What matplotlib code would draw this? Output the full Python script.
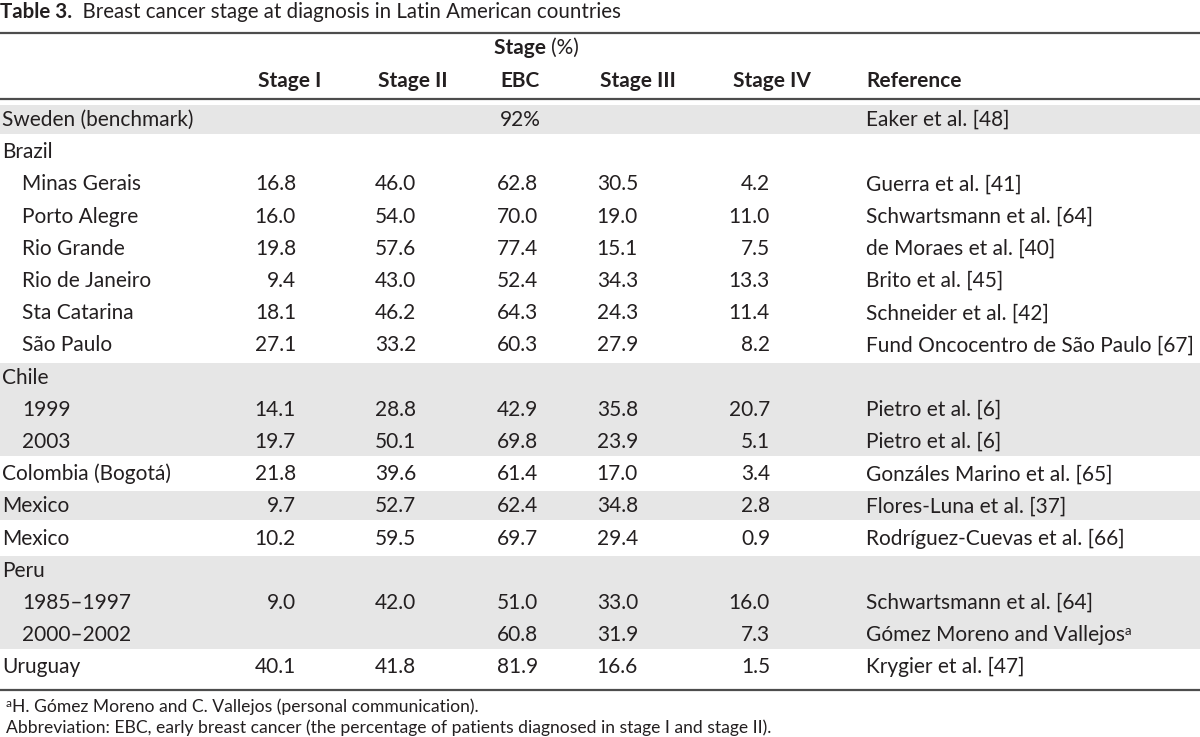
import matplotlib
matplotlib.use("Agg")
import matplotlib.pyplot as plt
from matplotlib.patches import Rectangle

# ---------------- data ----------------
title_bold = "Table 3."
title_rest = "  Breast cancer stage at diagnosis in Latin American countries"
col_headers = ["Stage I", "Stage II", "EBC", "Stage III", "Stage IV", "Reference"]
row_labels = ["Sweden (benchmark)", "Brazil", "Minas Gerais", "Porto Alegre", "Rio Grande",
              "Rio de Janeiro", "Sta Catarina", "São Paulo", "Chile", "1999", "2003",
              "Colombia (Bogotá)", "Mexico", "Mexico", "Peru", "1985–1997", "2000–2002", "Uruguay"]
indent = [0, 0, 1, 1, 1, 1, 1, 1, 0, 1, 1, 0, 0, 0, 0, 1, 1, 0]
stage1 = [None, None, 16.8, 16.0, 19.8, 9.4, 18.1, 27.1, None, 14.1, 19.7, 21.8, 9.7, 10.2, None, 9.0, None, 40.1]
stage2 = [None, None, 46.0, 54.0, 57.6, 43.0, 46.2, 33.2, None, 28.8, 50.1, 39.6, 52.7, 59.5, None, 42.0, None, 41.8]
ebc = [92, None, 62.8, 70.0, 77.4, 52.4, 64.3, 60.3, None, 42.9, 69.8, 61.4, 62.4, 69.7, None, 51.0, 60.8, 81.9]
stage3 = [None, None, 30.5, 19.0, 15.1, 34.3, 24.3, 27.9, None, 35.8, 23.9, 17.0, 34.8, 29.4, None, 33.0, 31.9, 16.6]
stage4 = [None, None, 4.2, 11.0, 7.5, 13.3, 11.4, 8.2, None, 20.7, 5.1, 3.4, 2.8, 0.9, None, 16.0, 7.3, 1.5]
references = ["Eaker et al. [48]", "", "Guerra et al. [41]", "Schwartsmann et al. [64]",
              "de Moraes et al. [40]", "Brito et al. [45]", "Schneider et al. [42]",
              "Fund Oncocentro de São Paulo [67]", "", "Pietro et al. [6]", "Pietro et al. [6]",
              "Gonzáles Marino et al. [65]", "Flores-Luna et al. [37]",
              "Rodríguez-Cuevas et al. [66]", "", "Schwartsmann et al. [64]",
              "Gómez Moreno and Vallejos", "Krygier et al. [47]"]
ref_superscript = {16: "a"}
shaded_groups = [(0, 0), (8, 10), (12, 12), (14, 16)]
footnote_a = "H. Gómez Moreno and C. Vallejos (personal communication)."
footnote_abbr = "Abbreviation: EBC, early breast cancer (the percentage of patients diagnosed in stage I and stage II)."

# ---------------- style ----------------
FONT = "Lato"
TXT = "#231f20"
RULE = "#4d4d4d"
SHADE = "#e6e6e6"
FS = 15
FS_TITLE = 14.8
FS_FOOT = 12.6

W, H = 1200, 737
fig = plt.figure(figsize=(W / 100, H / 100), dpi=100)
ax = fig.add_axes([0, 0, 1, 1])
ax.set_xlim(0, W)
ax.set_ylim(H, 0)
ax.axis("off")
fig.canvas.draw()
renderer = fig.canvas.get_renderer()


def seq(x, y, segs, **kw):
    """Draw text segments one after another starting at x."""
    for txt, extra in segs:
        opts = dict(fontfamily=FONT, color=TXT, va="baseline", ha="left", fontsize=FS)
        opts.update(kw)
        dy = extra.pop("dy", 0)
        opts.update(extra)
        t = ax.text(x, y + dy, txt, **opts)
        bb = t.get_window_extent(renderer)
        x += bb.width
    return x


def text_width(txt, **kw):
    t = ax.text(0, 0, txt, fontfamily=FONT, fontsize=kw.get("fontsize", FS),
                fontweight=kw.get("fontweight", "normal"))
    w = t.get_window_extent(renderer).width
    t.remove()
    return w


# geometry
row0 = 119.0
pitch = 32.2
base_off = 7.0
col_right = [296, 416, 538, 638, 770]
col_left = [258, 378, 500, 600, 733, 866]

# title
seq(0, 18, [(title_bold, {"fontweight": "bold", "fontsize": FS_TITLE}),
            (title_rest, {"fontsize": FS_TITLE})])

# rules
for yy in (33, 99, 690):
    ax.plot([0, W], [yy, yy], color=RULE, lw=1.6, solid_capstyle="butt")

# Stage (%) spanning header
w1 = text_width("Stage ", fontweight="bold")
w2 = text_width("(%)")
xs = 536 - (w1 + w2) / 2
seq(xs, 54, [("Stage ", {"fontweight": "bold"}), ("(%)", {})])

# column headers
for hdr, xl in zip(col_headers, col_left):
    ax.text(xl, 87, hdr, fontfamily=FONT, fontsize=FS, fontweight="bold",
            color=TXT, va="baseline", ha="left")

# shading
for a, b in shaded_groups:
    top = 105 + pitch * a
    bot = 134 + pitch * b
    ax.add_patch(Rectangle((0, top), W, bot - top, facecolor=SHADE, edgecolor="none", zorder=0))

# rows
cols = [stage1, stage2, ebc, stage3, stage4]
for i, lab in enumerate(row_labels):
    yb = row0 + pitch * i + base_off
    ax.text(2 + 20 * indent[i], yb, lab, fontfamily=FONT, fontsize=FS, color=TXT,
            va="baseline", ha="left")
    for j, col in enumerate(cols):
        v = col[i]
        if v is None:
            continue
        if j == 2 and i == 0:
            ax.text(col_left[2], yb, f"{v:g}%", fontfamily=FONT, fontsize=FS, color=TXT,
                    va="baseline", ha="left")
        else:
            ax.text(col_right[j], yb, f"{v:.1f}", fontfamily=FONT, fontsize=FS, color=TXT,
                    va="baseline", ha="right")
    if references[i]:
        segs = [(references[i], {})]
        if i in ref_superscript:
            segs.append((ref_superscript[i], {"fontsize": 9.5, "dy": -6}))
        seq(col_left[5], yb, segs)

# footnotes
seq(6, 712, [("a", {"fontsize": 8.5, "dy": -5}), (footnote_a, {"fontsize": FS_FOOT})])
seq(6, 733, [(footnote_abbr, {"fontsize": FS_FOOT})])

fig.savefig("out.png", dpi=100)
